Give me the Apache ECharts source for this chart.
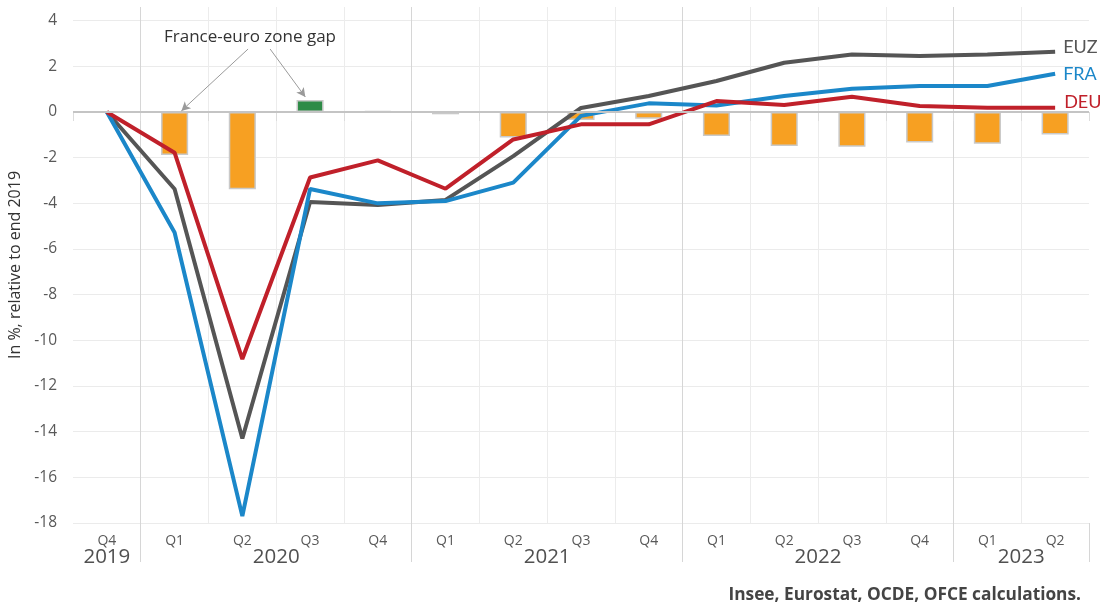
<!DOCTYPE html>
<html>
<head>
<meta charset="utf-8">
<script src="https://cdn.jsdelivr.net/npm/echarts@6/dist/echarts.min.js"></script>
<style>
html,body{margin:0;padding:0;background:#fff;}
#chart{width:1104px;height:606px;}
</style>
</head>
<body>
<div id="chart"></div>
<script>
const quarters = ['2019 Q4','2020 Q1','2020 Q2','2020 Q3','2020 Q4','2021 Q1','2021 Q2','2021 Q3','2021 Q4','2022 Q1','2022 Q2','2022 Q3','2022 Q4','2023 Q1','2023 Q2'];
const euz = [0,-3.37,-14.3,-3.94,-4.07,-3.85,-1.93,0.18,0.70,1.36,2.16,2.52,2.45,2.52,2.64];
const fra = [0,-5.28,-17.7,-3.37,-4.0,-3.9,-3.09,-0.17,0.38,0.29,0.70,1.02,1.14,1.14,1.68];
const deu = [0,-1.78,-10.82,-2.87,-2.12,-3.36,-1.2,-0.54,-0.54,0.48,0.31,0.67,0.26,0.19,0.19];
const gap = [null,-1.88,-3.38,0.53,0.05,-0.1,-1.12,-0.35,-0.29,-1.05,-1.49,-1.52,-1.34,-1.39,-0.98];
const yTicks = [-18,-16,-14,-12,-10,-8,-6,-4,-2,0,2,4];
const annotationText = 'France-euro zone gap';
const arrows = [[[2.585,2.76],[1.6,0.05]],[[2.91,2.76],[3.43,0.66]]];
const sourceText = 'Insee, Eurostat, OCDE, OFCE calculations.';

const yearOf = q => q.split(' ')[0];
const qOf = q => q.split(' ')[1];
const years = [];
quarters.forEach((q,i)=>{const y=yearOf(q); let e=years.find(o=>o.y===y); if(!e){years.push({y:y,first:i,last:i});} else e.last=i;});
const yearPos = {};
years.forEach(o=>{yearPos[((o.first+o.last+1)/2).toFixed(2)] = o.y;});
const yearStart = quarters.map((q,i)=> i>0 && yearOf(q)!==yearOf(quarters[i-1]));

const font = 'Lato, "Open Sans", sans-serif';
const font2 = '"Open Sans", sans-serif';
const xSplitColors = [];
for (let i=0;i<=quarters.length;i++){
  if (i===0 || i===quarters.length) xSplitColors.push('rgba(0,0,0,0)');
  else xSplitColors.push(yearStart[i] ? '#d6d6d6' : '#ececec');
}
const ySplitColors = yTicks.map(v=>'#ebebeb'); ySplitColors.push('rgba(0,0,0,0)');

const chart = echarts.init(document.getElementById('chart'));
chart.setOption({
  animation:false,
  textStyle:{fontFamily:font},
  title:[
    {text:annotationText,left:159,top:24,textStyle:{fontFamily:font2,fontSize:17,fontWeight:'normal',color:'#333'}},
    {text:sourceText,right:23,bottom:2,padding:0,textStyle:{fontFamily:font2,fontSize:17.3,fontWeight:'bold',color:'#444'}}
  ],
  grid:{left:73,right:15,top:7,bottom:83,containLabel:false,outerBoundsMode:'none'},
  xAxis:[
    {type:'category',data:quarters,boundaryGap:true,
     axisLine:{show:false},
     axisTick:{show:true,length:9,interval:0,lineStyle:{color:'#dcdcdc',width:1}},
     axisLabel:{interval:0,margin:11,fontSize:14,color:'#595959',fontFamily:font2,formatter:v=>qOf(v)},
     splitLine:{show:true,interval:0,lineStyle:{color:xSplitColors,width:1}}},
    {type:'category',data:quarters,boundaryGap:true,position:'bottom',
     axisLine:{show:false},
     axisTick:{show:true,length:39,interval:(i)=>yearStart[i],lineStyle:{color:'#d6d6d6',width:1}},
     axisLabel:{show:false},splitLine:{show:false}},
    {type:'value',min:0,max:quarters.length,interval:0.5,position:'bottom',
     axisLine:{show:false},axisTick:{show:false},splitLine:{show:false},
     axisLabel:{margin:24,fontSize:20.5,color:'#505050',fontFamily:font2,showMinLabel:true,showMaxLabel:true,
       formatter:v=>yearPos[v.toFixed(2)]||''}}
  ],
  yAxis:{type:'value',min:-18,max:4.6,interval:2,
    name:'In %, relative to end 2019',nameLocation:'middle',nameGap:48,nameRotate:90,
    nameTextStyle:{fontFamily:font2,fontSize:16,color:'#333'},
    axisLine:{show:false},axisTick:{show:false},
    axisLabel:{margin:16,fontSize:15.5,color:'#595959',fontFamily:font2,formatter:v=>yTicks.includes(v)?String(v):''},
    splitLine:{show:true,lineStyle:{color:ySplitColors,width:1}}},
  series:[
    {name:'gap',type:'bar',data:gap,barWidth:'40%',z:2,
     itemStyle:{color:p=>p.value>=0?'#2e8b47':'#f7a022',borderColor:'#c9c9c9',borderWidth:1.5},
     markLine:{silent:true,symbol:['none','none'],label:{show:false},
       lineStyle:{color:'#c4c4c4',width:2,type:'solid'},data:[{yAxis:0}]}},
    {name:'EUZ',type:'line',data:euz,symbol:'none',z:4,lineStyle:{color:'#555555',width:4},itemStyle:{color:'#555555'},
     endLabel:{show:true,formatter:'{a}',color:'#555555',fontSize:18,fontFamily:font,distance:8,offset:[0,-5]}},
    {name:'FRA',type:'line',data:fra,symbol:'none',z:4,lineStyle:{color:'#1b87c9',width:4},itemStyle:{color:'#1b87c9'},
     endLabel:{show:true,formatter:'{a}',color:'#1b87c9',fontSize:18,fontFamily:font,distance:8,offset:[0,1]}},
    {name:'DEU',type:'line',data:deu,symbol:'none',z:4,lineStyle:{color:'#c0202a',width:4},itemStyle:{color:'#c0202a'},
     endLabel:{show:true,formatter:'{a}',color:'#c0202a',fontSize:18,fontFamily:font,distance:9,offset:[0,-6]}},
    {name:'annot',type:'line',xAxisIndex:2,data:[],symbol:'none',
     markLine:{silent:true,symbol:['none','arrow'],symbolSize:[7,9],label:{show:false},
       lineStyle:{color:'#9a9a9a',width:1,type:'solid'},
       data:arrows.map(a=>[{coord:a[0]},{coord:a[1]}])}}
  ]
});
</script>
</body>
</html>
